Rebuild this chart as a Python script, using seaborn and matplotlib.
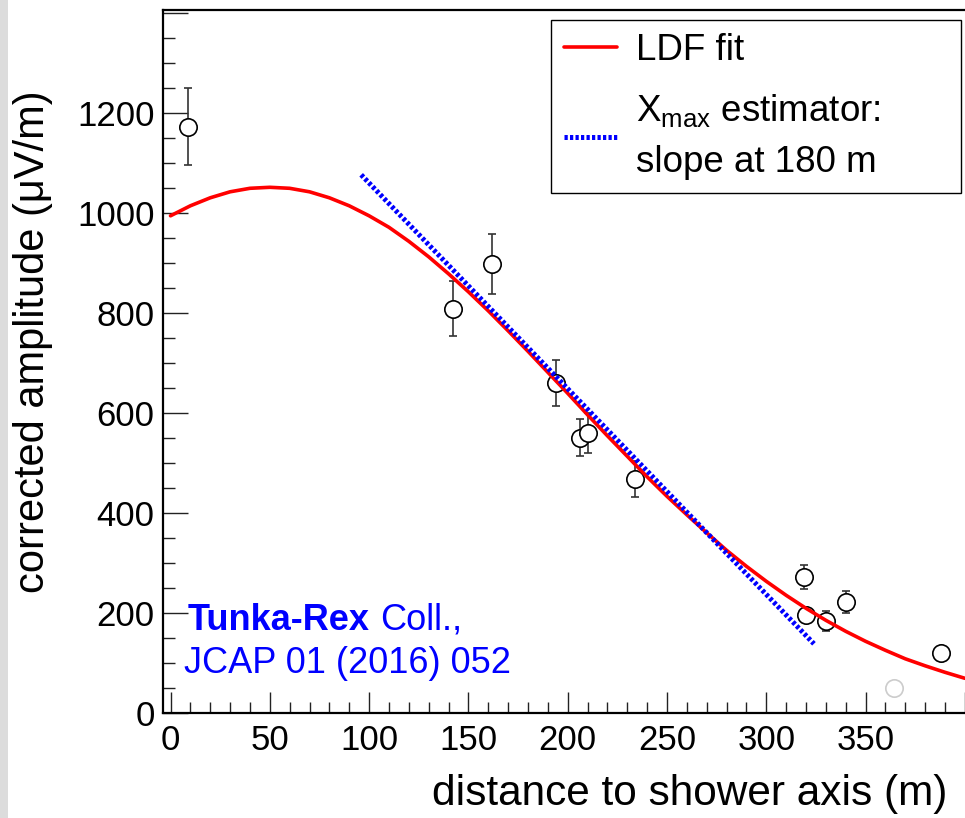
import matplotlib
matplotlib.use("Agg")
import numpy as np
import pandas as pd
import matplotlib.pyplot as plt
import seaborn as sns
from matplotlib.lines import Line2D
from matplotlib.patches import Rectangle
from matplotlib.ticker import MultipleLocator, FuncFormatter

# Measured stations (distance in m, corrected amplitude in uV/m)
distance = [9, 142, 162, 194, 206, 210, 234, 319, 320, 330, 340, 388]
amplitude = [1173, 809, 899, 660, 551, 560, 468, 272, 197, 185, 223, 120]
amplitude_err = [77, 55, 60, 46, 37, 40, 36, 24, 9, 20, 22, 8]

# Station left out of the fit (grey marker)
excluded_distance = [364.5]
excluded_amplitude = [51]

# LDF fit curve, every 10 m
ldf_distance = [0, 10, 20, 30, 40, 50, 60, 70, 80, 90, 100,
                110, 120, 130, 140, 150, 160, 170, 180, 190, 200,
                210, 220, 230, 240, 250, 260, 270, 280, 290, 300,
                310, 320, 330, 340, 350, 360, 370, 380, 390, 400]
ldf_amplitude = [995, 1015, 1031, 1043, 1050, 1052, 1050, 1043, 1031, 1015, 995,
                 972, 944, 913, 879, 843, 805, 765, 724, 682, 640,
                 597, 555, 514, 473, 434, 397, 361, 326, 294, 264,
                 236, 210, 186, 164, 144, 126, 109, 95, 82, 70]

# Xmax estimator: tangent of the LDF at 180 m
slope_distance = [96, 324]
slope_amplitude = [1077, 139]

sns.set_theme(style="ticks")
plt.rcParams["font.family"] = ["Liberation Sans", "DejaVu Sans"]
plt.rcParams["mathtext.fontset"] = "custom"
plt.rcParams["mathtext.rm"] = "Liberation Sans"
plt.rcParams["mathtext.it"] = "Liberation Sans:italic"
plt.rcParams["mathtext.bf"] = "Liberation Sans:bold"

W, H = 965, 818
fig = plt.figure(figsize=(W / 100, H / 100), dpi=100)
fig.patches.append(Rectangle((0, 0), 8 / W, 1, transform=fig.transFigure,
                             facecolor="#dcdcdc", edgecolor="none", zorder=0))

# axes frame in pixels: left 163, bottom 713, top 10, right spine off the canvas
ax = fig.add_axes([163 / W, (H - 713.3) / H, (975 - 163) / W, (713.3 - 10) / H])

ldf_df = pd.DataFrame({"distance": ldf_distance, "amplitude": ldf_amplitude})
slope_df = pd.DataFrame({"distance": slope_distance, "amplitude": slope_amplitude})

sns.lineplot(data=ldf_df, x="distance", y="amplitude", color="#ff0000",
             lw=2.6, ax=ax, legend=False, zorder=3)
sns.lineplot(data=slope_df, x="distance", y="amplitude", color="#0000ff",
             lw=3.6, linestyle=(0, (0.65, 0.45)), ax=ax, legend=False, zorder=4)

ax.errorbar(distance, amplitude, yerr=amplitude_err, fmt="o", ms=12.5,
            mfc="white", mec="black", mew=1.2, ecolor="#333333",
            elinewidth=1.2, capsize=2.8, capthick=1.2, zorder=2)
ax.plot(excluded_distance, excluded_amplitude, "o", ms=12.5, mfc="white",
        mec="#cccccc", mew=1.2, zorder=2)

ax.set_xlim(-3.78, 405.1)
ax.set_ylim(0, 1406.6)
ax.set_xlabel("")
ax.set_ylabel("")

ax.xaxis.set_major_locator(MultipleLocator(50))
ax.xaxis.set_minor_locator(MultipleLocator(10))
ax.yaxis.set_major_locator(MultipleLocator(200))
ax.yaxis.set_minor_locator(MultipleLocator(50))
ax.xaxis.set_major_formatter(FuncFormatter(lambda v, p: "" if v >= 400 else f"{v:g}"))
ax.yaxis.set_major_formatter(FuncFormatter(lambda v, p: "" if v >= 1400 else f"{v:g}"))

ax.tick_params(axis="x", which="major", direction="in", length=15, width=1.0,
               labelsize=25, pad=7.5, color="#222222", labelcolor="black", top=False)
ax.tick_params(axis="x", which="minor", direction="in", length=8, width=1.0,
               color="#222222", top=False)
ax.tick_params(axis="y", which="major", direction="in", length=18, width=1.0,
               labelsize=25, pad=6, color="#222222", labelcolor="black", right=False)
ax.tick_params(axis="y", which="minor", direction="in", length=8.6, width=1.0,
               color="#222222", right=False)

for side in ["left", "bottom", "top", "right"]:
    ax.spines[side].set_color("black")
    ax.spines[side].set_linewidth(1.6)

# Legend
handles = [Line2D([], [], color="#ff0000", lw=2.6),
           Line2D([], [], color="#0000ff", lw=3.6, linestyle=(0, (0.65, 0.45)))]
labels = ["LDF fit", "X$_{\\rm max}$ estimator:\nslope at 180 m"]
leg = ax.legend(handles, labels, loc="upper left",
                bbox_to_anchor=(551 / W, 0, 410 / W, (H - 20) / H),
                bbox_transform=fig.transFigure, mode="expand", borderaxespad=0,
                frameon=True, fancybox=False, edgecolor="black", framealpha=1,
                fontsize=26.5, handlelength=1.45, handletextpad=0.5,
                borderpad=0.35, labelspacing=0.65)
leg.get_frame().set_linewidth(1.0)
for txt in leg.get_texts():
    txt.set_color("black")
    txt.set_linespacing(1.6)

# Axis titles
fig.text(33 / W, 1 - 342 / H, "corrected amplitude (μV/m)", rotation=90,
         ha="center", va="center", fontsize=30, color="black")
fig.text(947 / W, 13 / H, "distance to shower axis (m)", ha="right",
         va="baseline", fontsize=30.5, color="black")

# Reference note
t1 = fig.text(188 / W, 1 - 630 / H, "Tunka-Rex", color="#0000ff",
              fontsize=26, fontweight="bold", va="baseline")
fig.canvas.draw()
bb = t1.get_window_extent()
fig.text((bb.x1 + 10) / W, 1 - 630 / H, "Coll.,", color="#0000ff",
         fontsize=26, va="baseline")
fig.text(184 / W, 1 - 673 / H, "JCAP 01 (2016) 052", color="#0000ff",
         fontsize=26, va="baseline")

fig.savefig("out.png", dpi=100)
plt.close(fig)
